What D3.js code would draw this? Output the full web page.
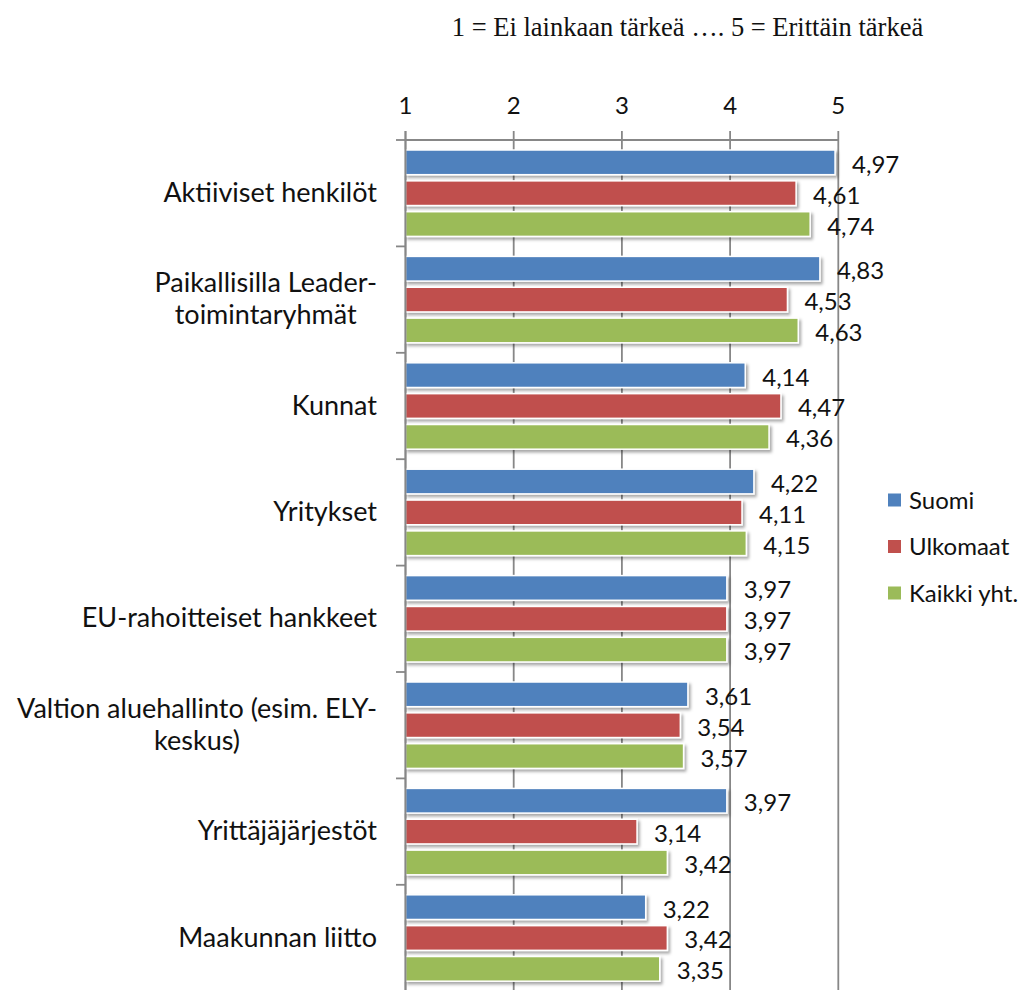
<!DOCTYPE html>
<html>
<head>
<meta charset="utf-8">
<script src="https://cdn.jsdelivr.net/npm/d3@7"></script>
<style>
  html, body { margin: 0; padding: 0; background: #fff; }
  svg { display: block; }
</style>
</head>
<body>
<div id="chart"></div>
<script>
const title = "1 = Ei lainkaan tärkeä …. 5 = Erittäin tärkeä";
const categories = [
  ["Aktiiviset henkilöt"],
  ["Paikallisilla Leader-", "toimintaryhmät"],
  ["Kunnat"],
  ["Yritykset"],
  ["EU-rahoitteiset hankkeet"],
  ["Valtion aluehallinto (esim. ELY-", "keskus)"],
  ["Yrittäjäjärjestöt"],
  ["Maakunnan liitto"]
];
const seriesNames = ["Suomi", "Ulkomaat", "Kaikki yht."];
const seriesColors = ["#4F81BD", "#C0504D", "#9BBB59"];
const suomi    = [4.97, 4.83, 4.14, 4.22, 3.97, 3.61, 3.97, 3.22];
const ulkomaat = [4.61, 4.53, 4.47, 4.11, 3.97, 3.54, 3.14, 3.42];
const kaikki   = [4.74, 4.63, 4.36, 4.15, 3.97, 3.57, 3.42, 3.35];
const tickValues = [1, 2, 3, 4, 5];

const seriesValues = [suomi, ulkomaat, kaikki];
const W = 1019, H = 990;
const svg = d3.select("#chart").append("svg").attr("width", W).attr("height", H);

const defs = svg.append("defs");
const f = defs.append("filter").attr("id", "shadow").attr("x", "-5%").attr("y", "-30%").attr("width", "115%").attr("height", "180%");
f.append("feDropShadow").attr("dx", 2).attr("dy", 2.5).attr("stdDeviation", 1.5)
  .attr("flood-color", "#000").attr("flood-opacity", 0.35);

const x = d3.scaleLinear().domain([1, 5]).range([405.5, 838.3]);
const y0 = d3.scaleBand().domain(d3.range(categories.length)).range([140, 140 + 8 * 106.4]).padding(0);
const y1 = d3.scaleBand().domain(d3.range(3)).range([10, y0.bandwidth() - 10]).paddingInner(0.2);

const gridColor = "#878787";
svg.append("g").selectAll("line").data(tickValues).join("line")
  .attr("x1", d => x(d)).attr("x2", d => x(d))
  .attr("y1", 131).attr("y2", H + 5)
  .attr("stroke", gridColor).attr("stroke-width", 1.8);
svg.append("line").attr("x1", x(1)).attr("x2", x(5)).attr("y1", 140).attr("y2", 140)
  .attr("stroke", gridColor).attr("stroke-width", 1.8);
svg.append("g").selectAll("line").data(d3.range(categories.length + 1)).join("line")
  .attr("x1", 396).attr("x2", x(1))
  .attr("y1", d => 140 + d * y0.step()).attr("y2", d => 140 + d * y0.step())
  .attr("stroke", gridColor).attr("stroke-width", 1.8);

svg.append("g").selectAll("text").data(tickValues).join("text")
  .attr("x", d => x(d)).attr("y", 113.5)
  .attr("text-anchor", "middle")
  .attr("font-family", "Lato, sans-serif").attr("font-size", 24).attr("fill", "#111")
  .text(d => d);

const groups = svg.append("g").selectAll("g").data(categories).join("g")
  .attr("transform", (d, i) => `translate(0,${y0(i)})`);
groups.each(function(c, i) {
  const g = d3.select(this);
  seriesValues.forEach((vals, s) => {
    g.append("rect")
      .attr("x", x(1)).attr("y", y1(s))
      .attr("width", x(vals[i]) - x(1)).attr("height", y1.bandwidth())
      .attr("fill", seriesColors[s])
      .attr("stroke", "#fff").attr("stroke-width", 1.5)
      .attr("filter", "url(#shadow)");
  });
  seriesValues.forEach((vals, s) => {
    g.append("text")
      .attr("x", x(vals[i]) + 17)
      .attr("y", y1(s) + y1.bandwidth() / 2 + 10.5)
      .attr("font-family", "Lato, sans-serif").attr("font-size", 24).attr("fill", "#111")
      .text(d3.format(".2f")(vals[i]).replace(".", ","));
  });
});

svg.append("line").attr("x1", x(1)).attr("x2", x(1)).attr("y1", 131).attr("y2", H + 5)
  .attr("stroke", gridColor).attr("stroke-width", 1.8);

categories.forEach((lines, i) => {
  const cy = y0(i) + y0.bandwidth() / 2;
  const t = svg.append("text")
    .attr("font-family", "Lato, sans-serif").attr("font-size", 27).attr("fill", "#111")
    .attr("text-anchor", "middle");
  const lh = 32;
  const spans = lines.map((ln, k) => t.append("tspan").text(ln)
    .attr("y", cy + 8.5 + (k - (lines.length - 1) / 2) * lh));
  const maxW = d3.max(spans, sp => sp.node().getComputedTextLength());
  spans.forEach(sp => sp.attr("x", 377 - maxW / 2));
});

const leg = svg.append("g").selectAll("g").data(seriesNames).join("g")
  .attr("transform", (d, i) => `translate(888,${500 + i * 46.5})`);
leg.append("rect").attr("x", 0).attr("y", -6.5).attr("width", 13).attr("height", 13)
  .attr("fill", (d, i) => seriesColors[i]);
leg.append("text").attr("x", 21).attr("y", 8.5)
  .attr("font-family", "Lato, sans-serif").attr("font-size", 24).attr("fill", "#111")
  .text(d => d);

svg.append("text").attr("x", 687.5).attr("y", 36)
  .attr("text-anchor", "middle")
  .attr("font-family", "'Liberation Serif', 'Times New Roman', serif").attr("font-size", 26.5).attr("fill", "#111")
  .text(title);
</script>
</body>
</html>
